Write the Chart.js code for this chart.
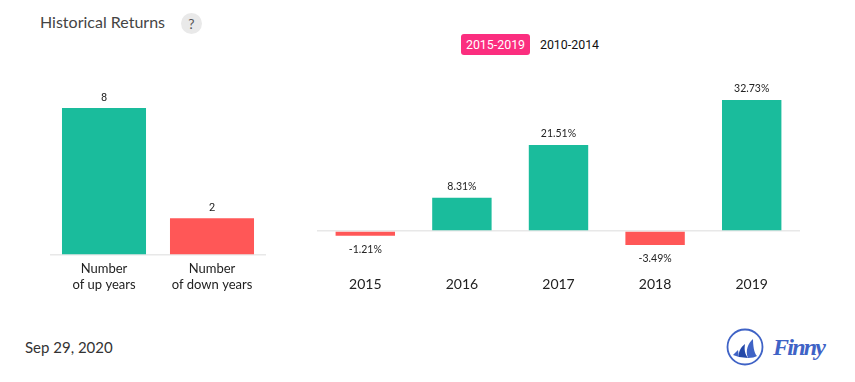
<!DOCTYPE html>
<html>
<head>
<meta charset="utf-8">
<script src="https://cdn.jsdelivr.net/npm/chart.js@4"></script>
<style>
  html, body { margin: 0; padding: 0; background: #fff; }
  #page { position: relative; width: 855px; height: 382px; overflow: hidden; font-family: Lato, sans-serif; }
  #page > * { position: absolute; }
  #title { left: 40px; top: 12px; font-size: 16px; color: #444; line-height: 20px; }
  #help { left: 181px; top: 13px; width: 21px; height: 21px; border-radius: 50%; background: #e9e9e9; color: #555;
          font-size: 14px; line-height: 21px; text-align: center; }
  .tab { top: 34px; height: 21px; line-height: 21px; font-family: Roboto, sans-serif; font-size: 12.4px; text-align: center; border-radius: 3px; }
  #tab-a { left: 461px; width: 69px; background: #fb2e7f; color: #fff; }
  #tab-b { left: 535px; width: 69px; color: #111; }
  #date { left: 25px; top: 337px; font-size: 15px; color: #333; line-height: 20px; }
  #logo { left: 724px; top: 325px; }
  #count-box { left: 50px; top: 80px; width: 216px; height: 220px; }
  #returns-box { left: 317px; top: 80px; width: 483px; height: 220px; }
</style>
</head>
<body>
<div id="page">
  <div id="title">Historical Returns</div>
  <div id="help">?</div>
  <div class="tab" id="tab-a">2015-2019</div>
  <div class="tab" id="tab-b">2010-2014</div>
  <div id="count-box"><canvas id="count-chart" width="216" height="220"></canvas></div>
  <div id="returns-box"><canvas id="returns-chart" width="483" height="220"></canvas></div>
  <div id="date">Sep 29, 2020</div>
  <svg id="logo" width="110" height="44" viewBox="0 0 110 44">
    <circle cx="21" cy="22" r="17.5" fill="none" stroke="#3f63c6" stroke-width="1.8"/>
    <path d="M9 30 L14 25 L15 32 Z" fill="#3f63c6"/>
    <path d="M15 32 C14 27 17 22 21 19 C20 25 21 29 24 33 Z" fill="#2347a8"/>
    <path d="M24 33 C21 26 24 18 29 14 C29 20 30 28 33 31 C31 32 28 33 24 33 Z" fill="#3f63c6"/>
    <text x="49" y="30" font-family="'Liberation Serif', serif" font-style="italic" font-weight="bold" font-size="24" fill="#3f63c6" textLength="53">Finny</text>
  </svg>
</div>

<script>
// values
const countLabels = [['Number', 'of up years'], ['Number', 'of down years']];
const countValues = [8, 2];
const returnYears = ['2015', '2016', '2017', '2018', '2019'];
const returnValues = [-1.21, 8.31, 21.51, -3.49, 32.73];

const GREEN = '#1abc9c';
const RED = '#ff5757';
const AXIS = '#e8e8e8';

// value labels above / below each bar
const barLabels = {
  id: 'barLabels',
  afterDatasetsDraw(chart, args, opts) {
    const { ctx } = chart;
    const values = chart.data.datasets[0].data;
    ctx.save();
    ctx.font = opts.font;
    ctx.fillStyle = '#222';
    ctx.textAlign = 'center';
    ctx.textBaseline = 'middle';
    chart.getDatasetMeta(0).data.forEach((bar, i) => {
      const v = values[i];
      const y = v < 0 ? bar.y + 14 : bar.y - opts.gap;
      ctx.fillText(opts.format(v), bar.x, y);
    });
    ctx.restore();
  }
};

function buildChart(id, labels, values, yMin, yMax, step, topPad, barPct, tickFont, tickPad, labelOpts) {
  return new Chart(document.getElementById(id), {
    type: 'bar',
    data: {
      labels,
      datasets: [{
        data: values,
        backgroundColor: values.map((v, i) => (id === 'count-chart' ? i === 0 : v >= 0) ? GREEN : RED),
        barPercentage: barPct,
        categoryPercentage: 1,
      }]
    },
    plugins: [barLabels],
    options: {
      responsive: false,
      animation: false,
      layout: { padding: { top: topPad, left: 0, right: 0, bottom: 0 } },
      plugins: { legend: { display: false }, tooltip: { enabled: false }, barLabels: labelOpts },
      scales: {
        x: {
          grid: { display: false },
          border: { display: false },
          ticks: { color: '#222', font: tickFont, padding: tickPad, maxRotation: 0, autoSkip: false },
          afterFit: s => { s.height = 45; },
        },
        y: {
          min: yMin, max: yMax,
          border: { display: false },
          grid: {
            drawTicks: false,
            lineWidth: 1.5,
            color: c => c.tick.value === 0 ? AXIS : 'transparent',
          },
          ticks: { display: false, stepSize: step },
          afterFit: s => { s.width = 0; },
        }
      }
    }
  });
}

buildChart('count-chart', countLabels, countValues, 0, 8, 2, 28, 0.778,
  { family: 'Lato', size: 13, lineHeight: 1.2 }, -2,
  { font: "11px Roboto", gap: 10, format: v => String(v) });

buildChart('returns-chart', returnYears, returnValues, -6, 34, 2, 15, 0.615,
  { family: 'Lato', size: 14 }, 13,
  { font: "10.5px Lato", gap: 11, format: v => v.toFixed(2) + '%' });
</script>
</body>
</html>
